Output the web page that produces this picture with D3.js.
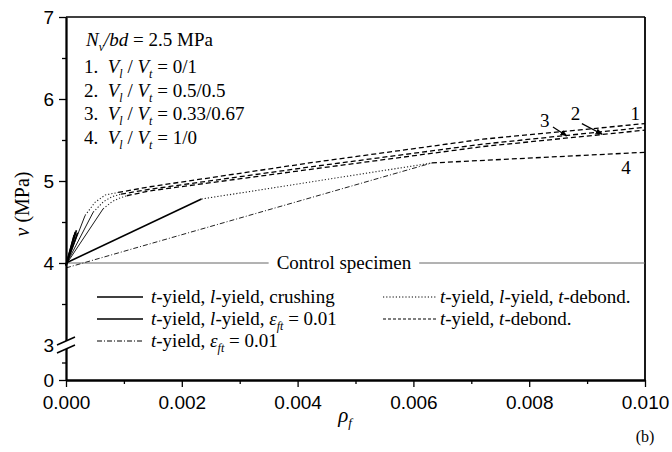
<!DOCTYPE html>
<html>
<head>
<meta charset="utf-8">
<script src="https://cdn.jsdelivr.net/npm/d3@7"></script>
<style>
    body { margin: 0; background: #fff; }
    .tick text { font-family: "Liberation Sans", Arial, sans-serif; font-size: 19px; fill: #000; }
    .serif { font-family: "Liberation Serif", "Times New Roman", serif; fill: #000; }
</style>
</head>
<body>
<div id="chart-area"></div>
<script>
// tick values
var xMajor = [0, 0.002, 0.004, 0.006, 0.008, 0.010];
var xMinor = [0.001, 0.003, 0.005, 0.007, 0.009];
var yMajor = [0, 3, 4, 5, 6, 7];
var yMinor = [1.5, 3.5, 4.5, 5.5, 6.5];

// control specimen strength
var controlV = 4.0;

// one array per failure mode, each a list of polylines [rho, v]
var crushing = [
    [[0, 3.97], [0.00014, 4.34]],
    [[0, 3.97], [0.00016, 4.38]],
    [[0, 3.97], [0.00018, 4.40]],
    [[0, 3.97], [0.00020, 4.37]],
    [[0, 4.00], [0.00234, 4.78]]
];
var lyieldEps = [
    [[0, 3.98], [0.00033, 4.58]],
    [[0, 3.98], [0.00047, 4.62]],
    [[0, 3.98], [0.00064, 4.66]]
];
var tyieldEps = [
    [[0, 3.94], [0.00632, 5.22]]
];
var lyieldDebond = [
    [[0.00033, 4.58], [0.00050, 4.74], [0.00068, 4.83], [0.00090, 4.86]],
    [[0.00047, 4.62], [0.00065, 4.75], [0.00080, 4.81], [0.00095, 4.84]],
    [[0.00064, 4.66], [0.00080, 4.75], [0.00092, 4.79], [0.00105, 4.82]],
    [[0.00234, 4.78], [0.00632, 5.22]]
];
var tDebond = [
    [[0.00090, 4.86], [0.00145, 4.93], [0.0042, 5.22], [0.0072, 5.51], [0.0100, 5.70]],
    [[0.00095, 4.84], [0.00145, 4.90], [0.0042, 5.17], [0.0072, 5.45], [0.0100, 5.655]],
    [[0.00105, 4.82], [0.00145, 4.88], [0.0042, 5.14], [0.0072, 5.42], [0.0100, 5.62]],
    [[0.00632, 5.22], [0.0100, 5.35]]
];

// curve numbers at the right end, with arrows for 2 and 3
var curveLabels = ["1", "2", "3", "4"];
var labelPos = [[0.00983, 5.83], [0.00880, 5.82], [0.00827, 5.74], [0.00967, 5.17]];
var arrows = [
    [[0.00891, 5.70], [0.00926, 5.57]],
    [[0.00841, 5.66], [0.00865, 5.55]]
];

// ratio lines in the top left
var ratios = ["0/1", "0.5/0.5", "0.33/0.67", "1/0"];

var margin = {top: 17, right: 27, bottom: 72, left: 66},
    width = 672 - margin.left - margin.right,
    height = 452 - margin.top - margin.bottom;

var svg = d3.select("#chart-area").append("svg")
    .attr("width", 672)
    .attr("height", 452)
    .append("g")
    .attr("transform", "translate(" + margin.left + "," + margin.top + ")");

var x = d3.scaleLinear().domain([0, 0.01]).range([0, width]);
// broken axis: 0..3 squeezed into the bottom strip
var y = d3.scaleLinear().domain([0, 3, 7]).range([height, height - 35, 0]);

var line = d3.line()
    .x(function(d) { return x(d[0]); })
    .y(function(d) { return y(d[1]); });

// frame (top and right)
svg.append("line").attr("x1", 0).attr("x2", width).attr("y1", 0).attr("y2", 0)
    .attr("stroke", "#000").attr("stroke-width", 1.5);
svg.append("line").attr("x1", width).attr("x2", width).attr("y1", 0).attr("y2", height)
    .attr("stroke", "#000").attr("stroke-width", 1.8);

// control specimen line with the label in a gap
var ctrlX = x(0.0048);
var ctrlText = svg.append("text")
    .attr("class", "serif")
    .attr("x", ctrlX)
    .attr("y", y(controlV))
    .attr("dy", "0.33em")
    .attr("text-anchor", "middle")
    .style("font-size", "19px")
    .text("Control specimen");
var tw = ctrlText.node().getComputedTextLength();
svg.append("line")
    .attr("x1", x(0)).attr("x2", ctrlX - tw / 2 - 8)
    .attr("y1", y(controlV)).attr("y2", y(controlV))
    .attr("stroke", "#666").attr("stroke-width", 1);
svg.append("line")
    .attr("x1", ctrlX + tw / 2 + 8).attr("x2", width)
    .attr("y1", y(controlV)).attr("y2", y(controlV))
    .attr("stroke", "#666").attr("stroke-width", 1);

// the curves
function drawSet(set, dash, w, col) {
    svg.selectAll(null)
        .data(set)
        .enter().append("path")
        .attr("d", line)
        .attr("fill", "none")
        .attr("stroke", col)
        .attr("stroke-width", w)
        .attr("stroke-dasharray", dash);
}
drawSet(crushing, null, 1.6, "#000");
drawSet(lyieldEps, null, 0.9, "#000");
drawSet(tyieldEps, "5,2,1,2", 1, "#222");
drawSet(lyieldDebond, "1.2,2", 1.1, "#222");
drawSet(tDebond, "5,3", 1.3, "#000");

// curve numbers
svg.selectAll(null)
    .data(curveLabels)
    .enter().append("text")
    .attr("class", "serif")
    .attr("x", function(d, i) { return x(labelPos[i][0]); })
    .attr("y", function(d, i) { return y(labelPos[i][1]); })
    .attr("dy", "0.35em")
    .attr("text-anchor", "middle")
    .style("font-size", "19px")
    .text(function(d) { return d; });

svg.append("defs").append("marker")
    .attr("id", "arr")
    .attr("viewBox", "0 0 10 10")
    .attr("refX", 9).attr("refY", 5)
    .attr("markerWidth", 6).attr("markerHeight", 6)
    .attr("orient", "auto")
    .append("path").attr("d", "M0,1L10,5L0,9Z").attr("fill", "#000");

svg.selectAll(null)
    .data(arrows)
    .enter().append("path")
    .attr("d", line)
    .attr("stroke", "#000")
    .attr("stroke-width", 1.2)
    .attr("marker-end", "url(#arr)");

// axes
var xAxis = svg.append("g")
    .attr("transform", "translate(0," + height + ")")
    .call(d3.axisBottom(x).tickValues(xMajor).tickFormat(d3.format(".3f")).tickSize(7).tickSizeOuter(0));
svg.append("g")
    .attr("transform", "translate(0," + height + ")")
    .call(d3.axisBottom(x).tickValues(xMinor).tickFormat("").tickSize(4).tickSizeOuter(0));
xAxis.selectAll(".tick text").attr("dy", "1.0em");

var yAxis = svg.append("g")
    .call(d3.axisLeft(y).tickValues(yMajor).tickFormat(d3.format("d")).tickSize(7).tickSizeOuter(0));
svg.append("g")
    .call(d3.axisLeft(y).tickValues(yMinor).tickFormat("").tickSize(4).tickSizeOuter(0));
yAxis.selectAll(".tick text").attr("dx", "-0.1em");
yAxis.selectAll(".tick").filter(function(d) { return d === 3; }).select("line").remove();

svg.selectAll(".domain").attr("stroke-width", 1.8);
svg.selectAll(".tick line").attr("stroke-width", 1.3);

// axis break marks at 3
var yb = y(3);
svg.append("rect")
    .attr("x", -5).attr("y", yb - 4).attr("width", 10).attr("height", 8)
    .attr("fill", "#fff");
[-4, 4].forEach(function(o) {
    svg.append("line")
        .attr("x1", -9).attr("y1", yb + o + 4)
        .attr("x2", 9).attr("y2", yb + o - 4)
        .attr("stroke", "#000").attr("stroke-width", 1.4);
});

// axis titles
var yl = svg.append("text")
    .attr("class", "serif")
    .attr("transform", "translate(" + (-37) + "," + (y(4.72)) + ") rotate(-90)")
    .attr("text-anchor", "middle")
    .style("font-size", "20px");
yl.append("tspan").style("font-style", "italic").text("v");
yl.append("tspan").text(" (MPa)");

var xl = svg.append("text")
    .attr("class", "serif")
    .attr("x", x(0.0047))
    .attr("y", height + 42)
    .style("font-size", "21px");
xl.append("tspan").style("font-style", "italic").text("ρ");
xl.append("tspan").style("font-style", "italic").style("font-size", "13px").attr("dy", 5).text("f");

svg.append("text")
    .attr("class", "serif")
    .attr("x", width)
    .attr("y", height + 62)
    .attr("text-anchor", "middle")
    .style("font-size", "16px")
    .text("(b)");

// parameters in the top left
var ann = svg.append("g").attr("class", "serif").style("font-size", "19px");
var t0 = ann.append("text").attr("x", 20).attr("y", 29);
t0.append("tspan").style("font-style", "italic").text("N");
t0.append("tspan").style("font-style", "italic").style("font-size", "12px").attr("dy", 5).text("v");
t0.append("tspan").style("font-style", "italic").attr("dy", -5).text("/bd");
t0.append("tspan").text(" = 2.5 MPa");

ratios.forEach(function(r, i) {
    var t = ann.append("text").attr("x", 18).attr("y", 56 + i * 23.5);
    t.append("tspan").text((i + 1) + ".\u00a0\u00a0");
    t.append("tspan").style("font-style", "italic").text("V");
    t.append("tspan").style("font-style", "italic").style("font-size", "12px").attr("dy", 5).text("l");
    t.append("tspan").attr("dy", -5).text("\u00a0/\u00a0");
    t.append("tspan").style("font-style", "italic").text("V");
    t.append("tspan").style("font-style", "italic").style("font-size", "12px").attr("dy", 5).text("t");
    t.append("tspan").attr("dy", -5).text(" = " + r);
});

// legend
var legend = [
    {col: 0, row: 0, dash: null, w: 1.3, parts: [["t", 1], ["-yield, ", 0], ["l", 1], ["-yield, crushing", 0]]},
    {col: 0, row: 1, dash: null, w: 1.3, parts: [["t", 1], ["-yield, ", 0], ["l", 1], ["-yield, ", 0], ["ε", 1], ["ft", 2], [" = 0.01", 0]]},
    {col: 0, row: 2, dash: "5,2,1,2", w: 1, parts: [["t", 1], ["-yield, ", 0], ["ε", 1], ["ft", 2], [" = 0.01", 0]]},
    {col: 1, row: 0, dash: "1.2,2", w: 1, parts: [["t", 1], ["-yield, ", 0], ["l", 1], ["-yield, ", 0], ["t", 1], ["-debond.", 0]]},
    {col: 1, row: 1, dash: "3,2", w: 1.2, parts: [["t", 1], ["-yield, ", 0], ["t", 1], ["-debond.", 0]]}
];
var colX = [31, 317], colLen = [46, 54];

legend.forEach(function(e) {
    var ly = 297 - margin.top + e.row * 22;
    svg.append("line")
        .attr("x1", colX[e.col]).attr("x2", colX[e.col] + colLen[e.col])
        .attr("y1", ly).attr("y2", ly)
        .attr("stroke", "#000").attr("stroke-width", e.w)
        .attr("stroke-dasharray", e.dash);
    var t = svg.append("text")
        .attr("class", "serif")
        .attr("x", colX[e.col] + colLen[e.col] + (e.col === 0 ? 8 : 3))
        .attr("y", ly).attr("dy", "0.33em")
        .style("font-size", "19px");
    var shift = 0;
    e.parts.forEach(function(p) {
        var s = t.append("tspan").text(p[0]);
        if (p[1] >= 1) s.style("font-style", "italic");
        if (p[1] === 2) { s.style("font-size", "12px").attr("dy", 5); shift = 5; }
        else if (shift) { s.attr("dy", -shift); shift = 0; }
    });
});
</script>
</body>
</html>
